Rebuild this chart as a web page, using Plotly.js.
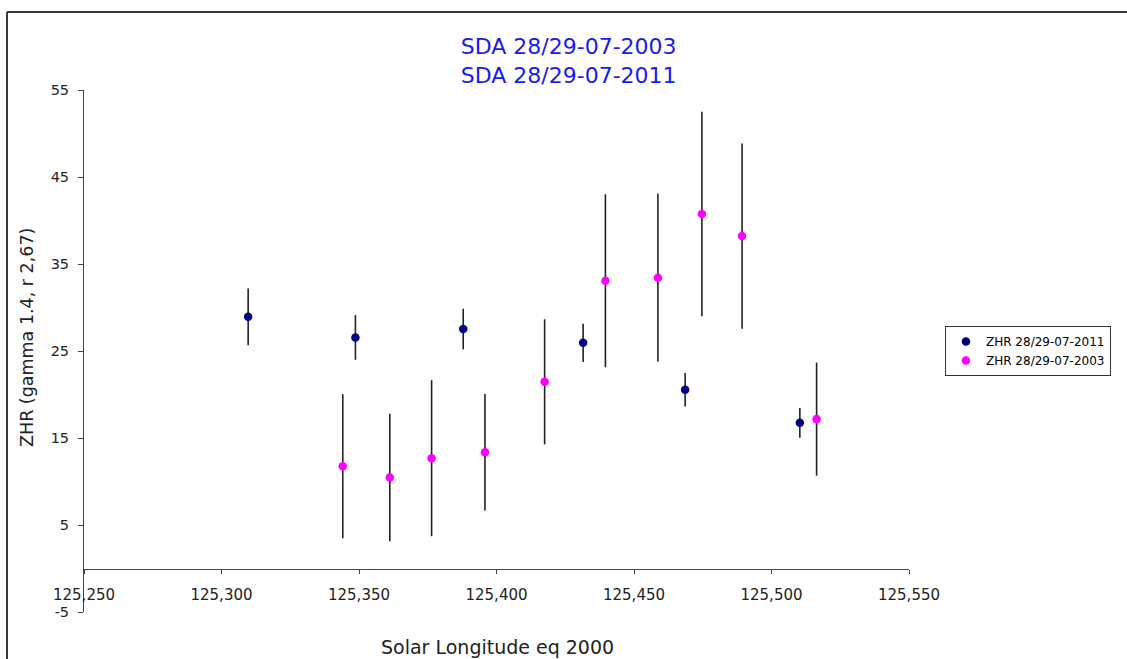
<!DOCTYPE html>
<html>
<head>
<meta charset="utf-8">
<script src="https://cdn.plot.ly/plotly-3.0.1.min.js"></script>
<style>
  html, body { margin: 0; padding: 0; background: #ffffff; }
  #chart { width: 1127px; height: 659px; }
</style>
</head>
<body>
<div id="chart"></div>
<script>
// Series 2011 (navy)
const lon2011 = [125.3097, 125.3487, 125.3879, 125.4315, 125.4686, 125.5103];
const zhr2011 = [28.93, 26.56, 27.52, 25.94, 20.54, 16.74];
const err2011 = [3.26, 2.57, 2.34, 2.19, 1.93, 1.70];

// Series 2003 (magenta)
const lon2003 = [125.3441, 125.3612, 125.3764, 125.3958, 125.4175, 125.4396, 125.4587, 125.4747, 125.4893, 125.5164];
const zhr2003 = [11.76, 10.46, 12.68, 13.37, 21.46, 33.07, 33.42, 40.74, 38.21, 17.17];
const err2003 = [8.28, 7.34, 8.97, 6.69, 7.19, 9.94, 9.66, 11.75, 10.64, 6.50];

const name2011 = 'ZHR 28/29-07-2011';
const name2003 = 'ZHR 28/29-07-2003';
const titleLines = ['SDA 28/29-07-2003', 'SDA 28/29-07-2011'];
const xTitle = 'Solar Longitude eq 2000';
const yTitle = 'ZHR (gamma 1.4, r 2,67)';
const yTickVals = [-5, 5, 15, 25, 35, 45, 55];
const yTickText = ['-5', '5', '15', '25', '35', '45', '55'];

const FONT = 'DejaVu Sans, Verdana, sans-serif';
const AXC = '#444444';

const traces = [
  {
    type: 'scatter', mode: 'markers', name: name2011,
    x: lon2011, y: zhr2011,
    error_y: { type: 'data', array: err2011, visible: true, color: '#222222', thickness: 1.6, width: 0 },
    marker: { color: '#000080', size: 8.5 }
  },
  {
    type: 'scatter', mode: 'markers', name: name2003,
    x: lon2003, y: zhr2003,
    error_y: { type: 'data', array: err2003, visible: true, color: '#222222', thickness: 1.6, width: 0 },
    marker: { color: '#ff00ff', size: 8.5 }
  }
];

const layout = {
  width: 1127, height: 659,
  paper_bgcolor: '#ffffff', plot_bgcolor: '#ffffff',
  separators: ', ',
  font: { family: FONT, color: '#222222' },
  margin: { l: 84, r: 218, t: 90, b: 47, pad: 0 },
  title: {
    text: titleLines.join('<br>'),
    font: { family: FONT, size: 22, color: '#1a1aee' },
    x: 0.5046, xanchor: 'center', xref: 'container',
    y: 1 - 54 / 659, yanchor: 'top', yref: 'container'
  },
  showlegend: true,
  legend: {
    x: 1.0436, xanchor: 'left', y: 0.5479, yanchor: 'top',
    bordercolor: '#333333', borderwidth: 1, bgcolor: '#ffffff',
    font: { family: FONT, size: 12, color: '#000000' },
    tracegroupgap: 0
  },
  xaxis: {
    range: [125.25, 125.55],
    tick0: 125.25, dtick: 0.05, tickformat: '.3f',
    anchor: 'free', position: 5 / 60,
    showline: true, linecolor: AXC, linewidth: 1,
    ticks: 'outside', ticklen: 4, tickcolor: AXC, tickwidth: 1,
    ticklabelstandoff: 8,
    showgrid: false, zeroline: false,
    tickfont: { family: FONT, size: 15, color: '#222222' },
    title: { text: '' },
    automargin: false
  },
  yaxis: {
    range: [-5, 55],
    tickmode: 'array', tickvals: yTickVals, ticktext: yTickText,
    showline: true, linecolor: AXC, linewidth: 1,
    ticks: 'outside', ticklen: 5, tickcolor: AXC, tickwidth: 1,
    ticklabelstandoff: 6,
    showgrid: false, zeroline: false,
    tickfont: { family: FONT, size: 14.5, color: '#222222' },
    automargin: false
  },
  annotations: [
    {
      text: xTitle, xref: 'paper', yref: 'paper',
      x: (497 - 84) / 825, y: (612 - 647) / 522,
      xanchor: 'center', yanchor: 'middle', showarrow: false,
      font: { family: FONT, size: 19, color: '#222222' }
    },
    {
      text: yTitle, xref: 'paper', yref: 'paper',
      x: (27 - 84) / 825, y: (612 - 338) / 522,
      xanchor: 'center', yanchor: 'middle', showarrow: false, textangle: -90,
      font: { family: FONT, size: 17.5, color: '#222222' }
    }
  ],
  shapes: [
    { type: 'line', xref: 'paper', yref: 'paper',
      x0: (7 - 84) / 825, x1: (7 - 84) / 825, y0: (612 - 12) / 522, y1: (612 - 680) / 522,
      line: { color: '#3a3a3a', width: 2 } },
    { type: 'line', xref: 'paper', yref: 'paper',
      x0: (7 - 84) / 825, x1: (1150 - 84) / 825, y0: (612 - 12) / 522, y1: (612 - 12) / 522,
      line: { color: '#3a3a3a', width: 2 } }
  ]
};

Plotly.newPlot('chart', traces, layout, { displayModeBar: false, staticPlot: true });
</script>
</body>
</html>
